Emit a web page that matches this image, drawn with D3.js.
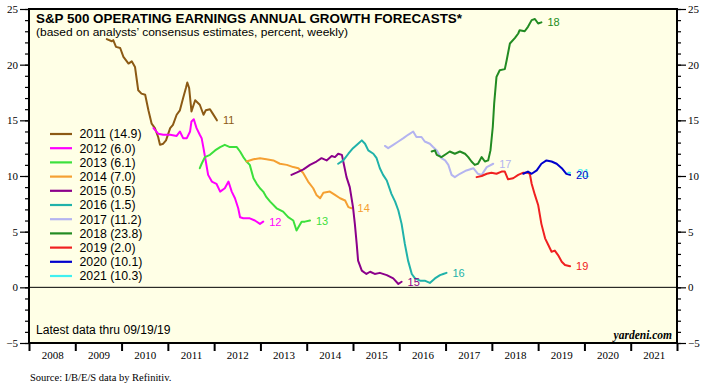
<!DOCTYPE html>
<html>
<head>
<meta charset="utf-8">
<script src="https://cdn.jsdelivr.net/npm/d3@7"></script>
<style>
  html, body { margin: 0; padding: 0; background: #ffffff; }
  svg { display: block; }
</style>
</head>
<body>
<svg id="chart" width="713" height="390"></svg>
<script>
// ---------------- DATA ----------------
const seriesNames = ["2011", "2012", "2013", "2014", "2015", "2016", "2017", "2018", "2019", "2020", "2021"];
const legendValues = [14.9, 6.0, 6.1, 7.0, 0.5, 1.5, 11.2, 23.8, 2.0, 10.1, 10.3];
const endLabels = ["11", "12", "13", "14", "15", "16", "17", "18", "19", "20", "21"];
const xYears = [2008, 2009, 2010, 2011, 2012, 2013, 2014, 2015, 2016, 2017, 2018, 2019, 2020, 2021];
const yMajorTicks = [-5, 0, 5, 10, 15, 20, 25];
const yMinorTicks = d3.range(-5, 26, 1);

// [decimal year, growth %]
const s2011 = [[2009.68,22.3],[2009.79,22.1],[2009.82,22.2],[2009.88,21.6],[2009.97,21.5],[2010.04,20.7],[2010.15,20.1],[2010.22,20.3],[2010.29,19.8],[2010.33,18.6],[2010.36,17.7],[2010.43,17.4],[2010.51,17.3],[2010.58,15.9],[2010.65,14.7],[2010.72,14.3],[2010.79,13.5],[2010.83,12.8],[2010.90,12.9],[2010.96,13.2],[2011.05,14.3],[2011.11,14.6],[2011.19,15.5],[2011.26,15.9],[2011.33,17.0],[2011.39,17.9],[2011.42,18.4],[2011.46,17.9],[2011.51,15.8],[2011.59,16.8],[2011.69,16.4],[2011.77,15.5],[2011.82,15.9],[2011.91,16.0],[2011.97,15.6],[2012.06,15.0]];
const s2012 = [[2010.69,14.3],[2010.79,13.8],[2010.90,13.7],[2011.05,13.7],[2011.19,13.6],[2011.26,14.0],[2011.33,13.4],[2011.41,13.4],[2011.48,14.0],[2011.51,14.9],[2011.56,15.1],[2011.62,14.3],[2011.69,13.7],[2011.73,13.4],[2011.77,12.5],[2011.82,11.3],[2011.87,10.1],[2011.95,9.5],[2012.05,9.3],[2012.13,8.6],[2012.23,8.9],[2012.31,9.5],[2012.38,8.6],[2012.45,8.0],[2012.52,7.1],[2012.56,6.3],[2012.63,6.2],[2012.77,6.2],[2012.88,6.0],[2012.99,5.7],[2013.06,5.9]];
const s2013 = [[2011.69,10.7],[2011.73,11.1],[2011.80,11.7],[2011.91,11.9],[2012.02,12.3],[2012.13,12.6],[2012.23,12.8],[2012.34,12.6],[2012.49,12.6],[2012.56,12.2],[2012.63,11.7],[2012.70,11.3],[2012.77,11.0],[2012.85,9.8],[2012.92,9.3],[2012.99,8.9],[2013.06,8.6],[2013.13,8.1],[2013.21,7.7],[2013.35,7.1],[2013.49,6.8],[2013.60,6.3],[2013.71,6.0],[2013.78,5.1],[2013.82,5.4],[2013.89,5.9],[2013.96,5.9],[2014.07,6.0]];
const s2014 = [[2012.70,11.3],[2012.85,11.5],[2012.99,11.6],[2013.13,11.5],[2013.28,11.4],[2013.42,11.1],[2013.57,11.0],[2013.71,10.8],[2013.82,10.7],[2013.92,10.3],[2014.03,9.5],[2014.14,8.9],[2014.21,8.3],[2014.29,8.0],[2014.36,8.5],[2014.50,8.6],[2014.61,8.3],[2014.72,8.0],[2014.83,7.8],[2014.90,7.2],[2014.97,7.1]];
const s2015 = [[2013.67,10.1],[2013.78,10.3],[2013.93,10.6],[2014.07,11.0],[2014.21,11.3],[2014.32,11.6],[2014.43,11.4],[2014.54,11.8],[2014.61,11.7],[2014.68,12.0],[2014.76,11.9],[2014.80,11.1],[2014.86,9.9],[2014.93,9.0],[2015.00,7.2],[2015.04,5.7],[2015.08,3.9],[2015.11,2.4],[2015.19,1.5],[2015.29,1.2],[2015.37,1.4],[2015.47,1.2],[2015.58,1.3],[2015.73,1.1],[2015.87,0.8],[2015.98,0.3],[2016.05,0.5]];
const s2016 = [[2014.68,11.1],[2014.79,11.4],[2014.90,12.0],[2015.00,12.5],[2015.11,12.9],[2015.19,13.2],[2015.26,12.9],[2015.33,12.3],[2015.44,12.0],[2015.51,11.6],[2015.58,10.7],[2015.65,10.1],[2015.73,9.6],[2015.83,8.4],[2015.91,7.7],[2015.98,6.9],[2016.05,5.7],[2016.12,3.9],[2016.19,2.4],[2016.27,1.2],[2016.34,0.8],[2016.45,0.6],[2016.55,0.6],[2016.66,0.4],[2016.77,0.8],[2016.88,1.1],[2016.95,1.2],[2017.02,1.3]];
const s2017 = [[2015.69,12.7],[2015.76,12.5],[2015.87,12.8],[2015.98,13.1],[2016.09,13.4],[2016.19,13.7],[2016.30,14.0],[2016.37,13.5],[2016.48,13.5],[2016.55,13.1],[2016.66,12.9],[2016.73,12.6],[2016.81,12.3],[2016.91,11.6],[2016.99,11.4],[2017.06,11.0],[2017.13,10.1],[2017.20,9.9],[2017.31,10.2],[2017.45,10.5],[2017.60,10.7],[2017.70,10.2],[2017.78,10.1],[2017.89,10.8],[2018.03,11.1]];
const s2018 = [[2016.70,12.2],[2016.77,12.3],[2016.81,11.9],[2016.91,11.7],[2017.02,12.0],[2017.09,12.2],[2017.20,12.0],[2017.31,12.2],[2017.42,12.0],[2017.49,11.7],[2017.56,11.3],[2017.63,11.0],[2017.70,11.1],[2017.78,11.7],[2017.85,11.3],[2017.92,11.4],[2017.97,12.3],[2018.02,14.4],[2018.05,16.5],[2018.10,18.9],[2018.17,19.5],[2018.28,19.6],[2018.32,20.4],[2018.39,21.9],[2018.50,22.4],[2018.57,22.8],[2018.60,23.1],[2018.71,23.0],[2018.78,23.4],[2018.86,24.0],[2018.93,24.1],[2019.00,23.7],[2019.07,23.8]];
const s2019 = [[2017.67,9.9],[2017.78,10.0],[2017.89,10.2],[2017.99,10.3],[2018.10,10.2],[2018.21,10.4],[2018.28,10.4],[2018.35,9.7],[2018.46,9.8],[2018.57,10.1],[2018.68,10.3],[2018.76,10.3],[2018.82,10.2],[2018.86,9.3],[2018.93,8.3],[2019.00,7.4],[2019.07,5.7],[2019.15,4.4],[2019.22,3.8],[2019.29,3.2],[2019.36,3.3],[2019.43,2.9],[2019.51,2.3],[2019.58,2.0],[2019.69,1.9]];
const s2020 = [[2018.68,10.2],[2018.78,10.4],[2018.86,10.2],[2018.97,10.5],[2019.07,11.1],[2019.18,11.4],[2019.29,11.3],[2019.40,11.1],[2019.51,10.7],[2019.61,10.2],[2019.69,10.1]];
const s2021 = [[2019.65,10.3],[2019.69,10.3]];

const seriesData = [s2011, s2012, s2013, s2014, s2015, s2016, s2017, s2018, s2019, s2020, s2021];
const colors = ["#8C5A14", "#FF00FF", "#3CE03C", "#F5A032", "#8B008B", "#20B2AA", "#B4B4F0", "#228B22", "#F02020", "#0000CC", "#40F0F0"];

const titleText = "S&P 500 OPERATING EARNINGS ANNUAL GROWTH FORECASTS*";
const subtitleText = "(based on analysts\u2019 consensus estimates, percent, weekly)";
const noteText = "Latest data thru 09/19/19";
const brandText = "yardeni.com";
const sourceText = "Source: I/B/E/S data by Refinitiv.";

// ---------------- LAYOUT ----------------
const L = 29, R = 677, T = 9, B = 343;
const sans = "'Liberation Sans', Arial, sans-serif";
const serif = "'Liberation Serif', 'Times New Roman', serif";

const svg = d3.select("#chart");
const x = d3.scaleLinear().domain([2008, 2022]).range([L, R]);
const y = d3.scaleLinear().domain([-5, 25]).range([B, T]);

// plot background
svg.append("rect").attr("x", L).attr("y", T).attr("width", R - L).attr("height", B - T)
  .attr("fill", "#FFFFE6");

// zero line
svg.append("line").attr("x1", L).attr("x2", R).attr("y1", y(0)).attr("y2", y(0))
  .attr("stroke", "#000").attr("stroke-width", 1);

// Y axes (left & right): minor + major ticks
function styleAxis(g) {
  g.select(".domain").remove();
  g.selectAll(".tick line").attr("stroke", "#000").attr("stroke-width", 1.2);
  g.selectAll(".tick text").attr("font-family", serif).attr("font-size", "11px").attr("fill", "#000");
}
svg.append("g").attr("transform", `translate(${L},0)`)
  .call(d3.axisLeft(y).tickValues(yMinorTicks).tickSize(4).tickFormat(""))
  .call(styleAxis);
svg.append("g").attr("transform", `translate(${L},0)`)
  .call(d3.axisLeft(y).tickValues(yMajorTicks).tickSize(9).tickPadding(2).tickFormat(d3.format("d")))
  .call(styleAxis);
svg.append("g").attr("transform", `translate(${R},0)`)
  .call(d3.axisRight(y).tickValues(yMinorTicks).tickSize(4).tickFormat(""))
  .call(styleAxis);
svg.append("g").attr("transform", `translate(${R},0)`)
  .call(d3.axisRight(y).tickValues(yMajorTicks).tickSize(9).tickPadding(2).tickFormat(d3.format("d")))
  .call(styleAxis);

// X axis: ticks at year boundaries, labels centred in each year
svg.append("g").attr("transform", `translate(0,${B})`)
  .call(d3.axisBottom(x).tickValues(xYears.concat([2022])).tickSize(8).tickFormat(""))
  .call(g => { g.select(".domain").remove(); g.selectAll(".tick line").attr("stroke", "#000").attr("stroke-width", 2); });
svg.append("g").attr("transform", `translate(0,${B})`)
  .call(d3.axisBottom(x).tickValues(xYears.map(v => v + 0.5)).tickSize(0).tickPadding(8).tickFormat(d => String(Math.floor(d))))
  .call(g => { g.select(".domain").remove();
    g.selectAll(".tick text").attr("font-family", serif).attr("font-size", "11px").attr("fill", "#000"); });

// frame
svg.append("rect").attr("x", L).attr("y", T).attr("width", R - L).attr("height", B - T)
  .attr("fill", "none").attr("stroke", "#000").attr("stroke-width", 2);

// series lines
const line = d3.line().x(d => x(d[0])).y(d => y(d[1])).curve(d3.curveLinear);
const plot = svg.append("g");
seriesData.forEach((data, i) => {
  plot.append("path").datum(data).attr("d", line)
    .attr("fill", "none").attr("stroke", colors[i]).attr("stroke-width", 2)
    .attr("stroke-linejoin", "round").attr("stroke-linecap", "round");
});

// end labels (drawn in reverse so "20" sits above "21", which peeks out as a halo)
for (let i = seriesData.length - 1; i >= 0; i--) {
  const last = seriesData[i][seriesData[i].length - 1];
  const dx = endLabels[i] === "21" ? 7 : 6;
  svg.append("text").attr("x", x(last[0]) + dx).attr("y", y(last[1]) + 4)
    .attr("font-family", sans).attr("font-size", "11px").attr("fill", colors[i])
    .text(endLabels[i]);
}

// legend
const legend = svg.append("g");
seriesNames.forEach((name, i) => {
  const ly = 134 + i * 14.2;
  legend.append("line").attr("x1", 50).attr("x2", 72).attr("y1", ly).attr("y2", ly)
    .attr("stroke", colors[i]).attr("stroke-width", 2.2);
  legend.append("text").attr("x", 79.5).attr("y", ly + 4.3)
    .attr("font-family", sans).attr("font-size", "12.3px").attr("fill", "#000")
    .text(`${name} (${d3.format(".1f")(legendValues[i])})`);
});

// titles & notes
svg.append("text").attr("x", 36).attr("y", 22.5).attr("font-family", sans)
  .attr("font-weight", "bold").attr("font-size", "13.2px").attr("fill", "#000")
  .attr("textLength", 426).attr("lengthAdjust", "spacingAndGlyphs").text(titleText);
svg.append("text").attr("x", 36).attr("y", 35.5).attr("font-family", sans)
  .attr("font-size", "11.8px").attr("fill", "#000")
  .attr("textLength", 312).attr("lengthAdjust", "spacingAndGlyphs").text(subtitleText);
svg.append("text").attr("x", 36).attr("y", 333.5).attr("font-family", sans)
  .attr("font-size", "12px").attr("fill", "#000")
  .attr("textLength", 134.5).attr("lengthAdjust", "spacingAndGlyphs").text(noteText);
svg.append("text").attr("x", 672).attr("y", 339).attr("text-anchor", "end").attr("font-family", serif)
  .attr("font-weight", "bold").attr("font-style", "italic").attr("font-size", "11.5px").attr("fill", "#000").text(brandText);
svg.append("text").attr("x", 30).attr("y", 381).attr("font-family", serif)
  .attr("font-size", "10.5px").attr("fill", "#000").text(sourceText);
</script>
</body>
</html>
